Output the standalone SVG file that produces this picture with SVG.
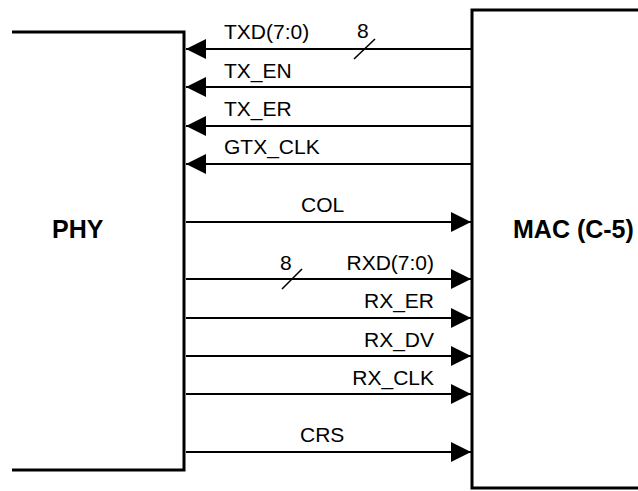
<svg xmlns="http://www.w3.org/2000/svg" width="638" height="491" viewBox="0 0 638 491">
<style>
.box{fill:none;stroke:#000;stroke-width:3}
.sig{fill:none;stroke:#000;stroke-width:2}
.bus{fill:none;stroke:#000;stroke-width:1.6}
.t{font-family:"Liberation Sans",Arial,sans-serif;font-size:21px;fill:#000}
.b{font-family:"Liberation Sans",Arial,sans-serif;font-size:25px;font-weight:bold;fill:#000}
</style>
<defs>
<marker id="ah" viewBox="0 0 20 20" refX="20" refY="10" markerWidth="20" markerHeight="20" markerUnits="userSpaceOnUse" orient="auto">
<path d="M0,0 L20,10 L0,20 z" fill="#000"/>
</marker>
</defs>
<rect width="638" height="491" fill="#fff"/>
<g id="phy">
<path class="box" d="M12,32 H184 V470 H12"/>
<text class="b" x="52" y="238">PHY</text>
</g>
<g id="mac">
<path class="box" d="M640,10 H472 V488 H640"/>
<text class="b" x="513" y="238">MAC (C-5)</text>
</g>
<g id="connectors">
<line class="sig" x1="471" y1="49" x2="186" y2="49" marker-end="url(#ah)"/>
<line class="sig" x1="471" y1="87" x2="186" y2="87" marker-end="url(#ah)"/>
<line class="sig" x1="471" y1="126" x2="186" y2="126" marker-end="url(#ah)"/>
<line class="sig" x1="471" y1="164" x2="186" y2="164" marker-end="url(#ah)"/>
<line class="sig" x1="186" y1="222" x2="471" y2="222" marker-end="url(#ah)"/>
<line class="sig" x1="186" y1="279" x2="471" y2="279" marker-end="url(#ah)"/>
<line class="sig" x1="186" y1="318" x2="471" y2="318" marker-end="url(#ah)"/>
<line class="sig" x1="186" y1="356" x2="471" y2="356" marker-end="url(#ah)"/>
<line class="sig" x1="186" y1="394" x2="471" y2="394" marker-end="url(#ah)"/>
<line class="sig" x1="186" y1="452" x2="471" y2="452" marker-end="url(#ah)"/>
<line class="bus" x1="354" y1="59" x2="375" y2="39"/>
<line class="bus" x1="282" y1="289" x2="302" y2="269"/>
<text class="t" x="224" y="39">TXD(7:0)</text>
<text class="t" x="357" y="38">8</text>
<text class="t" x="224" y="78">TX_EN</text>
<text class="t" x="224" y="116">TX_ER</text>
<text class="t" x="224" y="154">GTX_CLK</text>
<text class="t" x="301" y="212">COL</text>
<text class="t" x="280" y="270">8</text>
<text class="t" x="434" y="270" text-anchor="end">RXD(7:0)</text>
<text class="t" x="434" y="308" text-anchor="end">RX_ER</text>
<text class="t" x="434" y="347" text-anchor="end">RX_DV</text>
<text class="t" x="434" y="385" text-anchor="end">RX_CLK</text>
<text class="t" x="300" y="442">CRS</text>
</g>
</svg>
